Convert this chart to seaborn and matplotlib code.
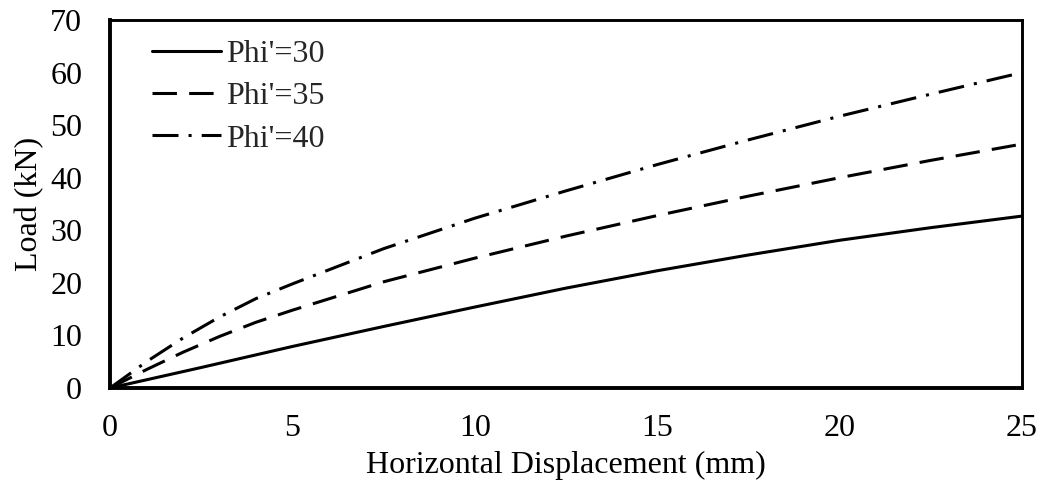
import numpy as np
import pandas as pd
import matplotlib
matplotlib.use("Agg")
import matplotlib.pyplot as plt
import seaborn as sns

# Horizontal displacement (mm) and load (kN) for each friction angle
disp_30 = [0, 2.5, 5, 7.5, 10, 12.5, 15, 17.5, 20, 22.5, 25]
load_30 = [0, 3.9, 7.9, 11.7, 15.4, 19.0, 22.3, 25.3, 28.1, 30.5, 32.7]

disp_35 = [0, 1, 2, 3, 4, 5, 7.5, 10, 12.5, 15, 17.5, 20, 22.5, 25]
load_35 = [0, 3.5, 6.8, 9.8, 12.5, 14.8, 20.2, 24.7, 28.9, 32.8, 36.5, 40.0, 43.3, 46.4]

disp_40 = [0, 1, 2, 3, 4, 5, 7.5, 10, 12.5, 15, 17.5, 20, 22.5, 25]
load_40 = [0, 5.0, 9.5, 13.5, 17.0, 19.8, 26.5, 32.3, 37.5, 42.5, 47.2, 51.7, 55.9, 60.0]

series_labels = ["Phi'=30", "Phi'=35", "Phi'=40"]
x_ticks = [0, 5, 10, 15, 20, 25]
y_ticks = [0, 10, 20, 30, 40, 50, 60, 70]

frames = []
for lab, xs, ys in zip(series_labels, [disp_30, disp_35, disp_40],
                       [load_30, load_35, load_40]):
    frames.append(pd.DataFrame({"disp": xs, "load": ys, "case": lab}))
df = pd.concat(frames, ignore_index=True)

sns.set_theme(style="white")
plt.rcParams["font.family"] = ["Liberation Serif", "DejaVu Serif"]
plt.rcParams["font.size"] = 23

fig = plt.figure(figsize=(10.44, 4.87), dpi=100)
ax = fig.add_axes([110 / 1044, 99 / 487, 912 / 1044, 368 / 487])

sns.lineplot(
    data=df, x="disp", y="load", hue="case", style="case",
    hue_order=series_labels, style_order=series_labels,
    palette=["black"] * 3,
    dashes={"Phi'=30": "", "Phi'=35": (8, 4), "Phi'=40": (8.5, 3.3, 1, 3.3)},
    linewidth=2.2, ax=ax, legend=True, sort=False,
)

ax.set_xlim(0, 25)
ax.set_ylim(0, 70)
ax.set_xticks(x_ticks)
ax.set_yticks(y_ticks)
ax.tick_params(axis="both", direction="in", length=6, width=1.6,
               labelsize=23, colors="black", pad=19)
ax.tick_params(axis="y", pad=20)

for side in ["left", "bottom"]:
    ax.spines[side].set_linewidth(2.8)
for side in ["top", "right"]:
    ax.spines[side].set_linewidth(2.1)
for sp in ax.spines.values():
    sp.set_color("black")

ax.set_xlabel("Horizontal Displacement (mm)", fontsize=23, color="black")
ax.set_ylabel("Load (kN)", fontsize=23, color="black")
ax.xaxis.set_label_coords(0.5, -0.172)
ax.yaxis.set_label_coords(-0.072, 0.5)

handles, labels = ax.get_legend_handles_labels()
ax.legend(handles, labels, loc="upper left", bbox_to_anchor=(0.046, 0.946),
          frameon=False, fontsize=23, handlelength=2.15, handletextpad=0.18,
          labelspacing=0.4, borderpad=0, borderaxespad=0)

fig.savefig("out.png", dpi=100, facecolor="white")
